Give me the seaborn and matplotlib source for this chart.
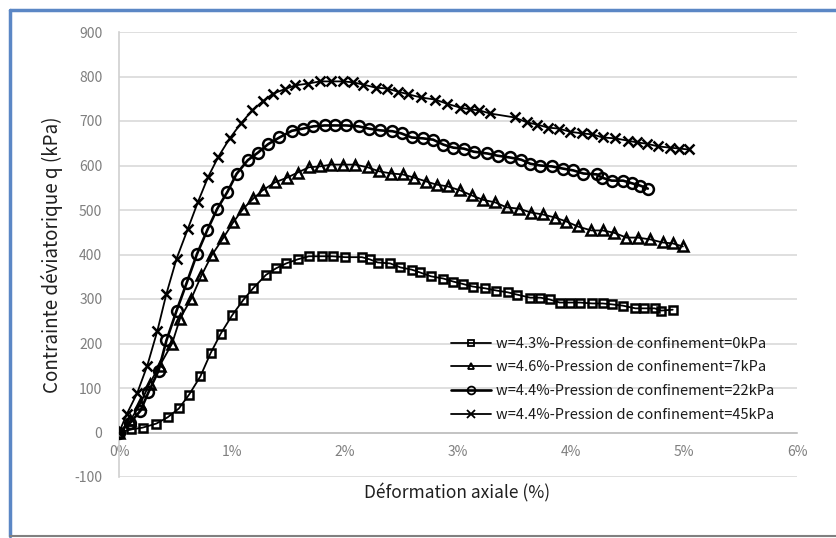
import matplotlib
matplotlib.use("Agg")
import matplotlib.pyplot as plt
import seaborn as sns
import pandas as pd
from matplotlib.lines import Line2D
from matplotlib.ticker import FuncFormatter, MultipleLocator

# Axial strain (%) and deviatoric stress q (kPa) for each confining pressure
strain_0 = [0, 0.11, 0.21, 0.33, 0.43, 0.53, 0.62, 0.72, 0.81, 0.90, 1.00, 1.10, 1.19, 1.30, 1.39,
            1.48, 1.58, 1.68, 1.80, 1.89, 2.00, 2.15, 2.22, 2.29, 2.40, 2.49, 2.59, 2.66, 2.76, 2.87,
            2.96, 3.04, 3.13, 3.24, 3.34, 3.44, 3.52, 3.64, 3.73, 3.81, 3.90, 3.99, 4.08, 4.19, 4.28,
            4.36, 4.46, 4.57, 4.65, 4.74, 4.80, 4.90]
q_0 = [0, 7, 11, 20, 34, 54, 85, 126, 178, 222, 263, 298, 325, 354, 369,
       380, 389, 396, 396, 396, 394, 394, 389, 382, 380, 371, 366, 360, 351, 346,
       339, 334, 328, 324, 319, 315, 310, 303, 303, 299, 292, 292, 292, 290, 290,
       288, 285, 279, 279, 279, 274, 276]

strain_7 = [0, 0.10, 0.19, 0.27, 0.36, 0.47, 0.54, 0.64, 0.73, 0.82, 0.92, 1.01, 1.10, 1.19, 1.27,
            1.38, 1.49, 1.58, 1.68, 1.78, 1.88, 1.98, 2.09, 2.20, 2.30, 2.41, 2.51, 2.61, 2.72, 2.81,
            2.91, 3.02, 3.12, 3.22, 3.33, 3.43, 3.54, 3.65, 3.75, 3.86, 3.96, 4.06, 4.18, 4.28, 4.38,
            4.49, 4.59, 4.70, 4.81, 4.90, 4.99]
q_7 = [0, 27, 65, 110, 150, 200, 256, 301, 353, 398, 436, 472, 503, 526, 544,
       562, 573, 584, 596, 598, 602, 602, 602, 596, 587, 582, 580, 573, 564, 557,
       553, 544, 533, 523, 517, 506, 503, 494, 490, 483, 474, 463, 454, 454, 449,
       438, 438, 434, 427, 425, 418]

strain_22 = [0, 0.10, 0.19, 0.26, 0.35, 0.42, 0.51, 0.60, 0.69, 0.78, 0.87, 0.96, 1.04, 1.14, 1.23,
             1.32, 1.42, 1.53, 1.63, 1.72, 1.82, 1.91, 2.01, 2.12, 2.21, 2.31, 2.42, 2.50, 2.59, 2.69,
             2.78, 2.87, 2.96, 3.05, 3.14, 3.26, 3.35, 3.46, 3.56, 3.64, 3.73, 3.83, 3.93, 4.02, 4.11,
             4.23, 4.27, 4.36, 4.46, 4.54, 4.61, 4.68]
q_22 = [0, 22, 49, 90, 139, 207, 274, 337, 401, 454, 503, 541, 581, 612, 629,
        648, 663, 678, 683, 688, 690, 690, 690, 688, 683, 679, 677, 672, 663, 661,
        658, 647, 640, 638, 631, 627, 622, 618, 613, 604, 600, 598, 593, 589, 582,
        580, 573, 566, 566, 560, 555, 548]

strain_45 = [0, 0.07, 0.16, 0.25, 0.34, 0.42, 0.51, 0.61, 0.70, 0.79, 0.88, 0.98, 1.08, 1.18, 1.27,
             1.36, 1.47, 1.56, 1.67, 1.78, 1.88, 1.98, 2.07, 2.16, 2.27, 2.37, 2.47, 2.56, 2.67, 2.80,
             2.90, 3.02, 3.11, 3.19, 3.28, 3.50, 3.61, 3.70, 3.80, 3.89, 3.99, 4.10, 4.19, 4.28, 4.39,
             4.50, 4.58, 4.67, 4.77, 4.88, 4.96, 5.04]
q_45 = [0, 42, 88, 150, 229, 312, 391, 458, 519, 575, 620, 661, 695, 724, 744,
        761, 772, 780, 784, 789, 789, 789, 787, 782, 775, 773, 766, 760, 753, 748,
        739, 730, 726, 724, 717, 708, 697, 692, 685, 683, 676, 672, 670, 663, 661,
        656, 652, 649, 643, 640, 638, 636]

labels = ["w=4.3%-Pression de confinement=0kPa",
          "w=4.6%-Pression de confinement=7kPa",
          "w=4.4%-Pression de confinement=22kPa",
          "w=4.4%-Pression de confinement=45kPa"]

sns.set_theme(style="white")
plt.rcParams['font.family'] = ['Noto Sans CJK SC', 'DejaVu Sans']
plt.rcParams['axes.unicode_minus'] = False

fig = plt.figure(figsize=(8.36, 5.38), dpi=100)
ax = fig.add_axes([119 / 836, 1 - 477 / 538, 678 / 836, 445 / 538])

series = [
    (strain_0, q_0, labels[0], "s", 6.3, 1.3),
    (strain_7, q_7, labels[1], "^", 6.8, 1.3),
    (strain_22, q_22, labels[2], "o", 7.8, 1.9),
    (strain_45, q_45, labels[3], "x", 7.2, 1.3),
]

handles = []
for xs, ys, lab, mk, ms, lw in series:
    df = pd.DataFrame({"strain": xs, "q": ys})
    sns.lineplot(data=df, x="strain", y="q", ax=ax, sort=False, estimator=None,
                 color="black", linewidth=lw, marker=mk, markersize=ms,
                 markerfacecolor="none", markeredgecolor="black", markeredgewidth=1.8,
                 legend=False, zorder=3)
    handles.append(Line2D([], [], color="black", linewidth=lw, marker=mk, markersize=ms * 0.72,
                          markerfacecolor="none", markeredgecolor="black", markeredgewidth=1.3,
                          label=lab))

ax.set_xlim(0, 6)
ax.set_ylim(-100, 900)
ax.xaxis.set_major_locator(MultipleLocator(1))
ax.yaxis.set_major_locator(MultipleLocator(100))
ax.xaxis.set_major_formatter(FuncFormatter(lambda v, p: f"{v:.0f}%"))

ax.grid(axis="y", color="#d9d9d9", linewidth=1.2, zorder=0)
ax.grid(axis="x", visible=False)
ax.set_axisbelow(True)

for side in ("top", "right"):
    ax.spines[side].set_visible(False)
ax.spines["left"].set_color("#d0d0d0")
ax.spines["left"].set_linewidth(1.2)
ax.spines["bottom"].set_position(("data", 0))
ax.spines["bottom"].set_color("#bfbfbf")
ax.spines["bottom"].set_linewidth(1.2)

ax.tick_params(axis="both", length=0, labelsize=10, labelcolor="#7f7f7f")
ax.tick_params(axis="x", pad=9)
ax.tick_params(axis="y", pad=12)

ax.set_ylabel("Contrainte déviatorique q (kPa)", fontsize=13.5, color="#1f1f1f", labelpad=8)
ax.set_xlabel("")
fig.text(457 / 836, 1 - 493 / 538, "Déformation axiale (%)", fontsize=12.5, color="#1f1f1f",
         ha="center", va="center")

leg = ax.legend(handles=handles, loc="upper left", bbox_to_anchor=(0.49, 0.315), frameon=False,
                fontsize=10.5, handlelength=2.7, handletextpad=0.35, labelspacing=0.66,
                borderpad=0, borderaxespad=0)
for t in leg.get_texts():
    t.set_color("#1a1a1a")

# Chart frame
fig.add_artist(Line2D([10 / 836, 1], [1 - 10 / 538, 1 - 10 / 538], transform=fig.transFigure,
                      color="#5b87c5", linewidth=2.5))
fig.add_artist(Line2D([10 / 836, 10 / 836], [1 - 10 / 538, 1 - 536 / 538], transform=fig.transFigure,
                      color="#5b87c5", linewidth=2.5))
fig.add_artist(Line2D([10 / 836, 1], [1 - 536 / 538, 1 - 536 / 538], transform=fig.transFigure,
                      color="#808080", linewidth=1.5))

fig.savefig("out.png", dpi=100)
